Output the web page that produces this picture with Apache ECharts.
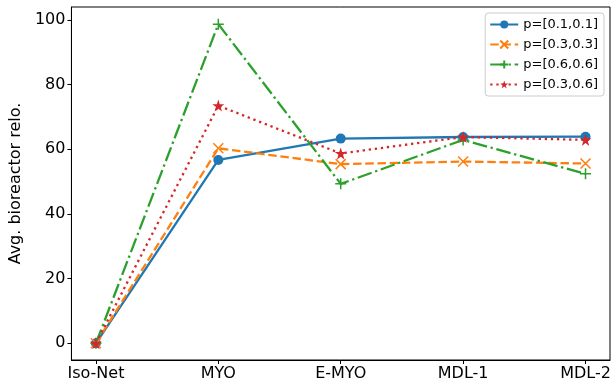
<!DOCTYPE html>
<html lang="en" style="height: 100%">

<head>
  <meta charset="UTF-8" />
  <title>Avg. bioreactor relo.</title>
  <script src="https://cdn.jsdelivr.net/npm/echarts@6/dist/echarts.min.js"></script>
</head>

<body style="height: 100%; margin: 0; background: #fff">
  <div id="main" style="width: 614px; height: 387px"></div>
  <script type="text/javascript">
    // categories on x
    var categories = ["Iso-Net", "MYO", "E-MYO", "MDL-1", "MDL-2"];
    // values
    var p11 = [0, 56.7, 63.3, 63.8, 63.9];
    var p33 = [0, 60.3, 55.4, 56.2, 55.6];
    var p66 = [0, 98.7, 49.3, 62.9, 52.4];
    var p36 = [0, 73.5, 58.7, 63.8, 62.9];
    var yTicks = [0, 20, 40, 60, 80, 100];

    var font = "DejaVu Sans";
    var starPath = "path://M50,0L61.8,36.2L100,36.2L69.1,58.6L80.9,95.1L50,72.6L19.1,95.1L30.9,58.6L0,36.2L38.2,36.2Z";
    var xPath = "path://M0,0L10,10M10,0L0,10";
    var plusPath = "path://M5,0L5,10M0,5L10,5";

    function toPts(vals) {
      return vals.map(function (v, i) { return [i, v]; });
    }

    var myChart = echarts.init(document.getElementById("main"));

    var option = {
      animation: false,
      grid: {
        left: 68, right: 4, top: 7, bottom: 27,
        show: true, borderColor: "#000", borderWidth: 1
      },
      legend: {
        orient: "vertical",
        right: 10, top: 13,
        itemWidth: 28, itemHeight: 10, itemGap: 7,
        padding: [5, 6, 5, 4],
        borderColor: "#ccc", borderWidth: 1, borderRadius: 3,
        backgroundColor: "#fff",
        textStyle: { fontFamily: font, fontSize: 13, color: "#000" }
      },
      xAxis: {
        type: "value",
        min: -0.2, max: 4.2,
        splitLine: { show: false },
        axisLine: { onZero: false, lineStyle: { color: "#000" } },
        axisTick: { customValues: [0, 1, 2, 3, 4], length: 4, lineStyle: { color: "#000" } },
        axisLabel: {
          customValues: [0, 1, 2, 3, 4],
          formatter: function (v) { return categories[Math.round(v)]; },
          fontFamily: font, fontSize: 16, color: "#000", margin: 6
        }
      },
      yAxis: {
        type: "value",
        min: -5.17, max: 104,
        name: "Avg. bioreactor relo.",
        nameLocation: "middle",
        nameGap: 44,
        nameTextStyle: { fontFamily: font, fontSize: 16, color: "#000" },
        splitLine: { show: false },
        axisLine: { show: true, onZero: false, lineStyle: { color: "#000" } },
        axisTick: { show: true, customValues: yTicks, length: 4, lineStyle: { color: "#000" } },
        axisLabel: {
          customValues: yTicks,
          fontFamily: font, fontSize: 16, color: "#000", margin: 6
        }
      },
      series: [
        {
          name: "p=[0.1,0.1]", type: "line", data: toPts(p11),
          symbol: "circle", symbolSize: 10,
          itemStyle: { color: "#1f77b4" },
          lineStyle: { color: "#1f77b4", width: 2.3 }
        },
        {
          name: "p=[0.3,0.3]", type: "line", data: toPts(p33),
          symbol: xPath, symbolSize: 10,
          itemStyle: { color: "#ff7f0e", borderColor: "#ff7f0e", borderWidth: 1.5 },
          lineStyle: { color: "#ff7f0e", width: 2.3, type: [8.5, 3.7] }
        },
        {
          name: "p=[0.6,0.6]", type: "line", data: toPts(p66),
          symbol: plusPath, symbolSize: 11,
          itemStyle: { color: "#2ca02c", borderColor: "#2ca02c", borderWidth: 1.5 },
          lineStyle: { color: "#2ca02c", width: 2.3, type: [14.7, 3.7, 2.3, 3.7] }
        },
        {
          name: "p=[0.3,0.6]", type: "line", data: toPts(p36),
          symbol: starPath, symbolSize: 12,
          itemStyle: { color: "#d62728" },
          lineStyle: { color: "#d62728", width: 2.3, type: [2.3, 3.8] }
        }
      ]
    };

    myChart.setOption(option);
    window.addEventListener("resize", myChart.resize);
  </script>
</body>

</html>
